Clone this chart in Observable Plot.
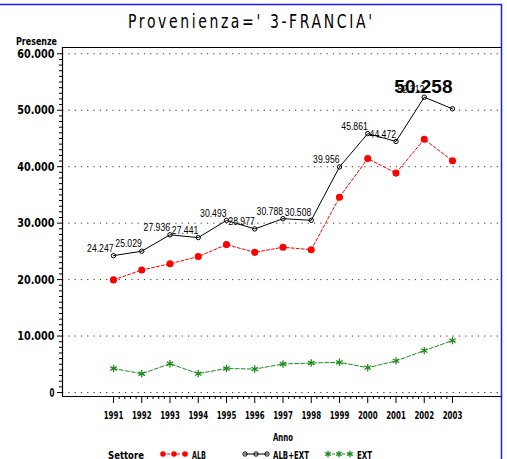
<!DOCTYPE html>
<html><head><meta charset="utf-8">
<script src="https://cdn.jsdelivr.net/npm/d3@7"></script>
<script src="https://cdn.jsdelivr.net/npm/@observablehq/plot@0.6"></script>
<style>html,body{margin:0;padding:0;background:#fff}svg{display:block}</style>
</head><body><div id="chart"></div>
<script>
// ---- data ----
const years = [1991,1992,1993,1994,1995,1996,1997,1998,1999,2000,2001,2002,2003];
const albExt = [24247,25029,27936,27441,30493,28977,30788,30508,39956,45861,44472,52312,50258];
const alb    = [19950,21700,22800,24080,26200,24830,25730,25300,34580,41460,38870,44850,41060];
const ext    = [4250,3320,5100,3350,4250,4150,5050,5220,5350,4400,5600,7420,9200];
const yTicks = [0,10000,20000,30000,40000,50000,60000];
const xTicks = years;
const seriesNames = ["ALB","ALB+EXT","EXT"];
const seriesColors = ["#ff0000","#000000","#1e8c1e"];
const titleText = "Provenienza=' 3-FRANCIA'";
const yLabel = "Presenze";
const xLabel = "Anno";
const legendTitle = "Settore";

// ---- helpers ----
const itLocale = d3.formatLocale({decimal: ",", thousands: ".", grouping: [3], currency: ["", "€"]});
const fmt = itLocale.format(",");
const xDomain = [1989.195, 2004.735];
const yDomain = [-708, 61115];
const rows = years.flatMap((yr, i) => [
  {year: yr, value: alb[i], serie: seriesNames[0]},
  {year: yr, value: albExt[i], serie: seriesNames[1]},
  {year: yr, value: ext[i], serie: seriesNames[2]}
]);
const rowsOf = s => rows.filter(d => d.serie === s);
const totRows = rowsOf("ALB+EXT");
const lastRow = totRows[totRows.length - 1];
const minorY = d3.range(0, 60001, 1000).filter(v => v % 10000 !== 0);
const minorX = d3.range(0, 61).filter(i => i % 5 !== 0).map(i => 1991 + i * 0.2);

const tickFont = "'DejaVu Sans', sans-serif";
const labelFont = "'Liberation Sans', Arial, sans-serif";

const chart = Plot.plot({
  width: 507, height: 459,
  marginLeft: 62, marginRight: 6, marginTop: 47, marginBottom: 63,
  x: {domain: xDomain, axis: null},
  y: {domain: yDomain, axis: null},
  style: {background: "white", fontFamily: labelFont, color: "black"},
  marks: [
    Plot.ruleY(yTicks, {stroke: "#333", strokeWidth: 1, strokeDasharray: "1.2,5.1"}),
    Plot.ruleY([yDomain[1]], {stroke: "black", strokeWidth: 1.2}),
    Plot.ruleY([yDomain[0]], {stroke: "black", strokeWidth: 1.2}),
    Plot.ruleX([xDomain[0]], {stroke: "black", strokeWidth: 1.2}),
    Plot.axisY(yTicks, {anchor: "left", tickSize: 5, tickPadding: 3, tickFormat: fmt, label: null,
      fontSize: 12.5, fontFamily: tickFont, fontWeight: "bold"}),
    Plot.axisY(minorY, {anchor: "left", tickSize: 3, tickFormat: () => "", label: null}),
    Plot.axisX(xTicks, {anchor: "bottom", tickSize: 7, tickPadding: 8, tickFormat: d => String(d), label: null,
      fontSize: 11, fontFamily: tickFont, fontWeight: "bold"}),
    Plot.axisX(minorX, {anchor: "bottom", tickSize: 3, tickFormat: () => "", label: null}),
    Plot.line(rowsOf("ALB"), {x: "year", y: "value", stroke: seriesColors[0], strokeWidth: 1, strokeDasharray: "3,2"}),
    Plot.line(rowsOf("EXT"), {x: "year", y: "value", stroke: seriesColors[2], strokeWidth: 1, strokeDasharray: "4,2"}),
    Plot.line(totRows, {x: "year", y: "value", stroke: seriesColors[1], strokeWidth: 1}),
    Plot.dot(rowsOf("ALB"), {x: "year", y: "value", r: 2.8, fill: seriesColors[0], stroke: seriesColors[0]}),
    Plot.dot(totRows, {x: "year", y: "value", r: 2.2, fill: "none", stroke: seriesColors[1], strokeWidth: 1}),
    Plot.dot(rowsOf("EXT"), {x: "year", y: "value", r: 3.5, symbol: "asterisk", stroke: seriesColors[2], strokeWidth: 1.3}),
    Plot.text(totRows.slice(0, -1), {x: "year", y: "value", text: d => fmt(d.value), textAnchor: "end",
      dy: -7, fontSize: 10, fontFamily: labelFont, fill: "black"}),
    Plot.text([lastRow], {x: "year", y: "value", text: d => fmt(d.value), textAnchor: "end",
      dy: -22, fontSize: 19, fontWeight: "bold", fontFamily: labelFont, fill: "black"})
  ]
});

const svg = d3.select(chart);
// condensed look for axis tick labels
svg.selectAll('g[aria-label="y-axis tick label"] text').each(function() {
  const n = this.textContent.length;
  if (n > 1) d3.select(this).attr("textLength", n * 6.3 - 0.5).attr("lengthAdjust", "spacingAndGlyphs");
  else d3.select(this).attr("textLength", 5).attr("lengthAdjust", "spacingAndGlyphs");
});
svg.selectAll('g[aria-label="x-axis tick label"] text').each(function() {
  const n = this.textContent.length;
  if (n > 0) d3.select(this).attr("textLength", n * 4.9).attr("lengthAdjust", "spacingAndGlyphs");
});
// data labels slightly condensed
svg.selectAll('g[aria-label="text"] text').each(function() {
  const n = this.textContent.length;
  const big = +d3.select(this.parentNode).attr("font-size") > 15 || this.getAttribute("font-size") > 15;
  if (!big && n > 1) d3.select(this).attr("textLength", n * 4.4).attr("lengthAdjust", "spacingAndGlyphs");
});

// title, axis labels, legend, border
const ann = svg.append("g");
function addText(str, x, y, size, anchor, len, weight, adjust, parent) {
  const t = (parent || ann).append("text").text(str).attr("x", x).attr("y", y)
    .attr("text-anchor", anchor).attr("font-family", tickFont).attr("font-size", size)
    .attr("fill", "black").attr("font-weight", weight || "bold");
  if (len) t.attr("textLength", len).attr("lengthAdjust", adjust || "spacingAndGlyphs");
  return t;
}
// title: narrow glyphs with wide spacing
const titleScale = 0.7;
const tg = ann.append("g").attr("transform", `translate(250,28) scale(${titleScale},1)`);
addText(titleText, 0, 0, 20, "middle", 244 / titleScale, "normal", "spacing", tg);
addText(yLabel, 57, 45, 10, "end", 41);
addText(xLabel, 283, 441, 11, "middle", 20);

const ly = 454;
addText(legendTitle, 108, 458.5, 11, "start", 36);
const legendItems = [
  {name: seriesNames[0], color: seriesColors[0], x0: 160, tx: 192, len: 14, kind: "dot", dash: "3,2"},
  {name: seriesNames[1], color: seriesColors[1], x0: 242, tx: 273, len: 36, kind: "circle", dash: null},
  {name: seriesNames[2], color: seriesColors[2], x0: 325, tx: 357, len: 15, kind: "star", dash: "3,2"}
];
const starPath = d3.symbol(d3.symbolAsterisk, 28)();
legendItems.forEach(it => {
  ann.append("line").attr("x1", it.x0 + 2).attr("x2", it.x0 + 26).attr("y1", ly).attr("y2", ly)
    .attr("stroke", it.color).attr("stroke-dasharray", it.dash);
  [0, 1, 2].forEach(k => {
    const cx = it.x0 + 3 + k * 11;
    if (it.kind === "dot") ann.append("circle").attr("cx", cx).attr("cy", ly).attr("r", 2.8).attr("fill", it.color);
    else if (it.kind === "circle") ann.append("circle").attr("cx", cx).attr("cy", ly).attr("r", 2.2).attr("fill", "none").attr("stroke", it.color);
    else ann.append("path").attr("d", starPath).attr("transform", `translate(${cx},${ly})`).attr("stroke", it.color).attr("stroke-width", 1.3).attr("fill", "none");
  });
  addText(it.name, it.tx, 458.5, 11, "start", it.len);
});
ann.append("path").attr("d", "M0,4.5H501.5V459").attr("fill", "none").attr("stroke", "#1a1aff").attr("stroke-width", 1.5);

document.getElementById("chart").appendChild(chart);
</script>
</body></html>
